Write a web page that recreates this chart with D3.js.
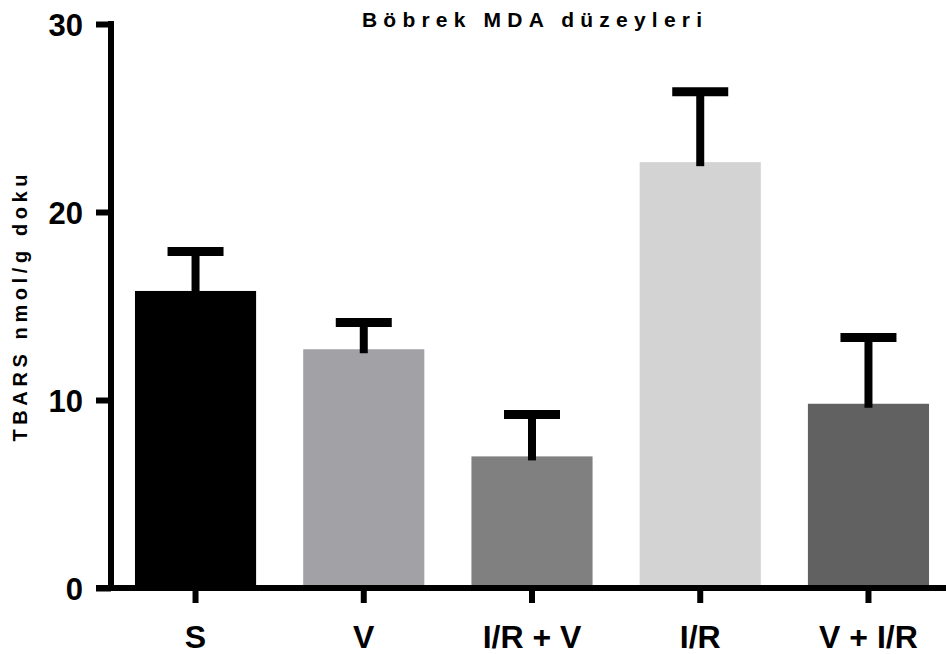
<!DOCTYPE html>
<meta charset="utf-8">
<style>
  body { margin: 0; background: #fff; }
  text { font-family: "Liberation Sans", Arial, sans-serif; font-weight: bold; }
</style>
<body>
<script src="https://d3js.org/d3.v7.min.js"></script>
<script>
    // data
    var groups = ["S", "V", "I/R + V", "I/R", "V + I/R"];
    var means = [15.8, 12.7, 7.0, 22.65, 9.8];
    var errors = [2.1, 1.42, 2.23, 3.75, 3.52];
    var colors = ["#000000", "#a2a1a6", "#808080", "#d3d3d3", "#616161"];
    var yTicks = [0, 10, 20, 30];

    var svg = d3.select("body").append("svg")
        .attr("width", 946)
        .attr("height", 654);

    var x = d3.scaleBand()
        .domain(groups)
        .range([111, 953])
        .paddingInner(0.28)
        .paddingOuter(0.1425);

    var y = d3.scaleLinear().domain([0, 30]).range([588, 24]);

    // bars
    svg.selectAll(".bar")
        .data(groups)
        .enter().append("rect")
        .attr("class", "bar")
        .attr("x", function(d) { return x(d); })
        .attr("width", x.bandwidth())
        .attr("y", function(d, i) { return y(means[i]); })
        .attr("height", function(d, i) { return y(0) - y(means[i]); })
        .attr("fill", function(d, i) { return colors[i]; });

    // error bars (upper only)
    var eb = svg.selectAll(".err")
        .data(groups)
        .enter().append("g")
        .attr("class", "err");
    eb.append("line")
        .attr("x1", function(d) { return x(d) + x.bandwidth() / 2; })
        .attr("x2", function(d) { return x(d) + x.bandwidth() / 2; })
        .attr("y1", function(d, i) { return y(means[i]) + 4; })
        .attr("y2", function(d, i) { return y(means[i] + errors[i]); })
        .attr("stroke", "#000").attr("stroke-width", 8);
    eb.append("line")
        .attr("x1", function(d) { return x(d) + x.bandwidth() / 2 - 28; })
        .attr("x2", function(d) { return x(d) + x.bandwidth() / 2 + 28; })
        .attr("y1", function(d, i) { return y(means[i] + errors[i]); })
        .attr("y2", function(d, i) { return y(means[i] + errors[i]); })
        .attr("stroke", "#000").attr("stroke-width", 9);

    // y axis
    var yAxis = svg.append("g")
        .attr("transform", "translate(111,0)")
        .call(d3.axisLeft(y).tickValues(yTicks).tickSize(15).tickPadding(13).tickSizeOuter(0));
    yAxis.select(".domain").attr("stroke-width", 6).attr("d", "M0," + (y(0) + 3) + "V" + (y(30) - 3));
    yAxis.selectAll(".tick line").attr("stroke-width", 6);
    yAxis.selectAll(".tick text")
        .attr("fill", "#000")
        .style("font-size", "31px")
        .style("font-family", "'Liberation Sans', Arial, sans-serif")
        .style("font-weight", "bold")
        .attr("dy", "0.38em");

    // x axis
    var xAxis = svg.append("g")
        .attr("transform", "translate(0," + y(0) + ")")
        .call(d3.axisBottom(x).tickSize(15).tickPadding(22).tickSizeOuter(0));
    xAxis.select(".domain").attr("stroke-width", 6).attr("d", "M96,0H946");
    xAxis.selectAll(".tick line").attr("stroke-width", 6);
    xAxis.selectAll(".tick text")
        .attr("fill", "#000")
        .style("font-size", "32px")
        .style("font-family", "'Liberation Sans', Arial, sans-serif")
        .style("font-weight", "bold");

    // title
    svg.append("text")
        .attr("x", 532).attr("y", 27)
        .attr("text-anchor", "middle")
        .attr("textLength", 340)
        .attr("lengthAdjust", "spacing")
        .style("font-size", "21px")
        .text("Böbrek MDA düzeyleri");

    // y label
    svg.append("text")
        .attr("transform", "translate(27,308) rotate(-90)")
        .attr("text-anchor", "middle")
        .attr("textLength", 267)
        .attr("lengthAdjust", "spacing")
        .style("font-size", "20px")
        .text("TBARS nmol/g doku");
</script>
</body>
